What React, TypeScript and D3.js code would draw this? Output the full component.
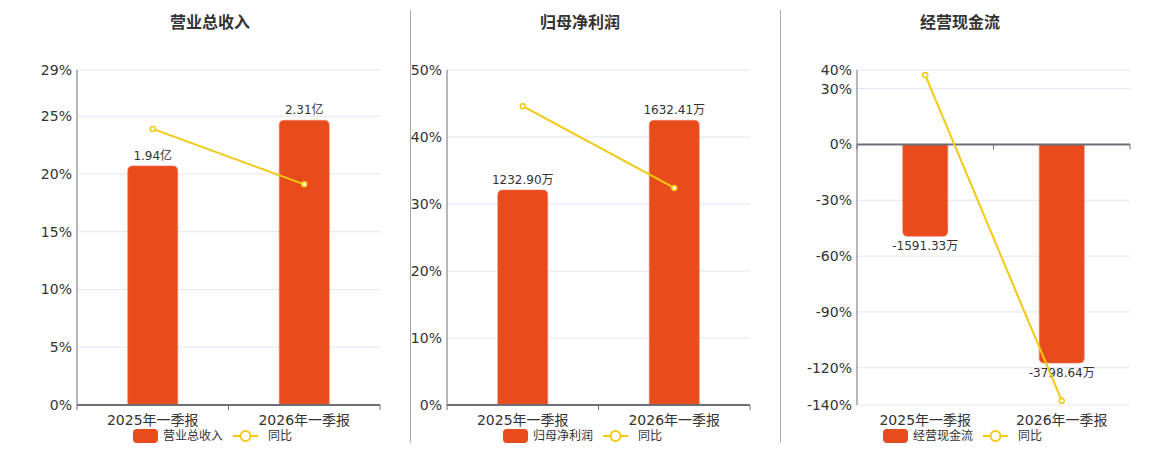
import * as d3 from "d3";

// categories and values
const categories = ["2025年一季报", "2026年一季报"];

const revenueValues = [1.94, 2.31];
const revenueLabels = ["1.94亿", "2.31亿"];
const revenueYoy = [23.9, 19.1];
const revenueTicks = [0, 5, 10, 15, 20, 25, 29];

const profitValues = [1232.9, 1632.41];
const profitLabels = ["1232.90万", "1632.41万"];
const profitYoy = [44.6, 32.4];
const profitTicks = [0, 10, 20, 30, 40, 50];

const cashValues = [-1591.33, -3798.64];
const cashLabels = ["-1591.33万", "-3798.64万"];
const cashYoy = [37.3, -137.7];
const cashTicks = [-140, -120, -90, -60, -30, 0, 30, 40];

const BAR = "#E84B1C";
const LINE = "#F2C811";
const FONT = "'DejaVu Sans', 'Noto Sans CJK SC', sans-serif";

const panels = [
  {
    title: "营业总收入",
    values: revenueValues,
    labels: revenueLabels,
    yoy: revenueYoy,
    ticks: revenueTicks,
    left: 77,
    right: 380,
    center: 210,
    barDomain: [0, 2.718],
  },
  {
    title: "归母净利润",
    values: profitValues,
    labels: profitLabels,
    yoy: profitYoy,
    ticks: profitTicks,
    left: 447,
    right: 750,
    center: 580,
    barDomain: [0, 1921],
  },
  {
    title: "经营现金流",
    values: cashValues,
    labels: cashLabels,
    yoy: cashYoy,
    ticks: cashTicks,
    left: 857,
    right: 1130,
    center: 960,
    barDomain: [-4530, 1307],
  },
];

const TOP = 70;
const BOTTOM = 405;

// bar path with rounded corners on the end away from zero
function barPath(x: number, w: number, y0: number, y1: number, r: number) {
  const h = Math.abs(y1 - y0);
  const rr = Math.min(r, h / 2, w / 2);
  if (y1 < y0) {
    return `M${x},${y0}V${y1 + rr}Q${x},${y1} ${x + rr},${y1}H${x + w - rr}Q${x + w},${y1} ${x + w},${y1 + rr}V${y0}Z`;
  }
  return `M${x},${y0}V${y1 - rr}Q${x},${y1} ${x + rr},${y1}H${x + w - rr}Q${x + w},${y1} ${x + w},${y1 - rr}V${y0}Z`;
}

function Panel({ p }: { p: (typeof panels)[number] }) {
  const x = d3.scaleBand<string>().domain(categories).range([p.left, p.right]);
  const pctExtent = d3.extent(p.ticks) as [number, number];
  const y = d3.scaleLinear().domain(pctExtent).range([BOTTOM, TOP]);
  const yBar = d3.scaleLinear().domain(p.barDomain).range([BOTTOM, TOP]);
  const zeroY = y(0);
  const bw = x.bandwidth() * 0.33;
  const line = d3
    .line<number>()
    .x((_, i) => x(categories[i])! + x.bandwidth() / 2)
    .y((d) => y(d));
  const boundaries = [p.left, ...categories.map((c) => x(c)! + x.bandwidth())];

  return (
    <g>
      <text x={p.center} y={28} textAnchor="middle" fontSize={16} fontWeight="bold" fill="#333">
        {p.title}
      </text>
      {p.ticks.map((t) => (
        <g key={t}>
          <line x1={p.left} x2={p.right} y1={y(t)} y2={y(t)} stroke="#E0E6F1" strokeWidth={1} />
          <text x={p.left - 5} y={y(t)} dy="0.35em" textAnchor="end" fontSize={14} fill="#333">
            {t}%
          </text>
        </g>
      ))}
      <line x1={p.left} x2={p.left} y1={TOP} y2={BOTTOM} stroke="#6E7079" strokeWidth={1} />
      {p.values.map((v, i) => {
        const c = categories[i];
        const bx = x(c)! + (x.bandwidth() - bw) / 2;
        const y1 = yBar(v);
        return (
          <g key={c}>
            <path d={barPath(bx, bw, zeroY, y1, 5)} fill={BAR} stroke="#F27A5A" strokeWidth={0.6} />
            <text
              x={bx + bw / 2}
              y={v >= 0 ? y1 - 6 : y1 + 14}
              textAnchor="middle"
              fontSize={12}
              fill="#333"
            >
              {p.labels[i]}
            </text>
          </g>
        );
      })}
      <line x1={p.left} x2={p.right} y1={zeroY} y2={zeroY} stroke="#6E7079" strokeWidth={2} />
      {boundaries.map((bx, i) => (
        <line key={i} x1={bx} x2={bx} y1={zeroY} y2={zeroY + 5} stroke="#6E7079" strokeWidth={1} />
      ))}
      {categories.map((c) => (
        <text key={c} x={x(c)! + x.bandwidth() / 2} y={425} textAnchor="middle" fontSize={14} fill="#333">
          {c}
        </text>
      ))}
      <path d={line(p.yoy) ?? ""} fill="none" stroke={LINE} strokeWidth={2} />
      {p.yoy.map((v, i) => (
        <circle
          key={i}
          cx={x(categories[i])! + x.bandwidth() / 2}
          cy={y(v)}
          r={2.5}
          fill="#fff"
          stroke={LINE}
          strokeWidth={1.5}
        />
      ))}
      <g transform={`translate(${p.center - 77},436)`}>
        <rect x={0} y={-7} width={25} height={14} rx={4} fill={BAR} />
        <text x={30} y={0} dy="0.35em" fontSize={12} fill="#333">
          {p.title}
        </text>
        <line x1={100} x2={125} y1={0} y2={0} stroke={LINE} strokeWidth={2} />
        <circle cx={112.5} cy={0} r={5} fill="#fff" stroke={LINE} strokeWidth={2} />
        <text x={135} y={0} dy="0.35em" fontSize={12} fill="#333">
          同比
        </text>
      </g>
    </g>
  );
}

export default function App() {
  return (
    <svg
      width={1160}
      height={450}
      style={{ position: "absolute", left: 0, top: 0, fontFamily: FONT }}
    >
      <rect width={1160} height={450} fill="#fff" />
      <line x1={410.5} x2={410.5} y1={10} y2={443} stroke="#aaa" strokeWidth={1} />
      <line x1={780.5} x2={780.5} y1={10} y2={443} stroke="#aaa" strokeWidth={1} />
      {panels.map((p) => (
        <Panel key={p.title} p={p} />
      ))}
    </svg>
  );
}
